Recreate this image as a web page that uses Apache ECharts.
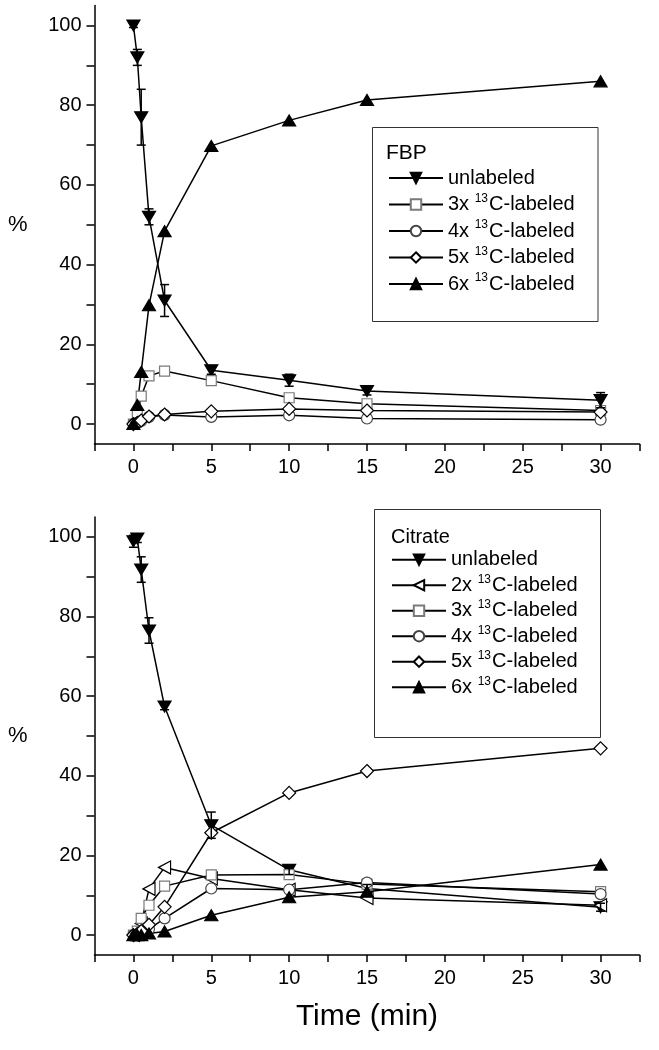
<!DOCTYPE html>
<html>
<head>
<meta charset="utf-8">
<script src="https://cdn.jsdelivr.net/npm/echarts@6/dist/echarts.min.js"></script>
<style>
  html, body { margin: 0; padding: 0; background: #fff; }
  #chart { width: 659px; height: 1050px; }
</style>
</head>
<body>
<div id="chart"></div>
<script>
// ---- data ----
const times = [0, 0.25, 0.5, 1, 2, 5, 10, 15, 30];

const fbpUnlabeled    = [100, 92, 77, 52, 31, 13.5, 11, 8.3, 6];
const fbpUnlabeledErr = [0.5, 2, 7, 2, 4, 1, 1.5, 1, 1.9];
const fbp3x = [0, 2.3, 7.0, 12.1, 13.3, 10.9, 6.6, 5.1, 3.4];
const fbp4x = [0, 0.3, 0.8, 1.8, 2.3, 1.8, 2.2, 1.4, 1.1];
const fbp5x = [0, 0.3, 0.9, 1.9, 2.4, 3.2, 3.8, 3.4, 3.0];
const fbp6x = [0, 4.8, 13.1, 29.8, 48.4, 69.8, 76.2, 81.3, 86];

const citUnlabeled    = [98.9, 99.6, 91.8, 76.5, 57.4, 27.6, 16.4, 11.7, 7.0];
const citUnlabeledErr = [1.5, 1, 3.2, 3.2, 0.8, 3.3, 1.2, 1, 1];
const cit2x = [0, 0.5, 2.9, 11.6, 17.0, 14.2, 11.4, 9.3, 7.5];
const cit3x = [0, 1.0, 4.2, 7.5, 12.3, 15.1, 15.2, 12.8, 10.9];
const cit4x = [0, 0.2, 0.5, 1.5, 4.2, 11.7, 11.4, 13.2, 10.3];
const cit5x = [0, 0.3, 1.0, 2.6, 7.1, 25.7, 35.7, 41.2, 46.9];
const cit6x = [0, 0, 0, 0.4, 0.9, 5.0, 9.5, 10.9, 17.7];

const xTicks  = [-2.5, 0, 2.5, 5, 7.5, 10, 12.5, 15, 17.5, 20, 22.5, 25, 27.5, 30, 32.5];
const xLabels = [0, 5, 10, 15, 20, 25, 30];
const yTicks  = [0, 10, 20, 30, 40, 50, 60, 70, 80, 90, 100];
const yLabels = [0, 20, 40, 60, 80, 100];

// ---- styles ----
const FONT = '"Liberation Sans", Arial, Helvetica, sans-serif';
const styles = {
  unlabeled: { symbol: 'triangle', symbolRotate: 180, symbolSize: [13, 11], fill: '#000', stroke: '#000' },
  '2x': { symbol: 'triangle', symbolRotate: 90, symbolSize: [13, 12], fill: '#fff', stroke: '#000' },
  '3x': { symbol: 'rect', symbolRotate: 0, symbolSize: 10, fill: '#fff', stroke: '#7a7a7a' },
  '4x': { symbol: 'circle', symbolRotate: 0, symbolSize: 11, fill: '#fff', stroke: '#444' },
  '5x': { symbol: 'diamond', symbolRotate: 0, symbolSize: 13, fill: '#fff', stroke: '#000' },
  '6x': { symbol: 'triangle', symbolRotate: 0, symbolSize: [13, 11], fill: '#000', stroke: '#000' }
};

function lineSeries(name, key, values, gi) {
  const s = styles[key];
  return {
    name: name, type: 'line',
    xAxisIndex: gi, yAxisIndex: gi,
    data: times.map((t, i) => [t, values[i]]),
    symbol: s.symbol, symbolRotate: s.symbolRotate, symbolSize: s.symbolSize,
    showSymbol: true, showAllSymbol: true,
    lineStyle: { color: '#000', width: 1.5 },
    itemStyle: { color: s.fill, borderColor: s.stroke, borderWidth: 1.2 },
    emphasis: { disabled: true },
    z: 3
  };
}

function errSeries(values, errs, gi) {
  return {
    type: 'custom',
    xAxisIndex: gi, yAxisIndex: gi,
    data: times.map((t, i) => [t, values[i], errs[i]]),
    encode: { x: 0, y: 1 },
    z: 4,
    renderItem: function (params, api) {
      const x = api.value(0), y = api.value(1), e = api.value(2);
      const hi = api.coord([x, y + e]);
      const lo = api.coord([x, y - e]);
      const w = 4.5;
      const st = { stroke: '#000', lineWidth: 1.5 };
      return {
        type: 'group',
        children: [
          { type: 'line', shape: { x1: hi[0], y1: hi[1], x2: lo[0], y2: lo[1] }, style: st },
          { type: 'line', shape: { x1: hi[0] - w, y1: hi[1], x2: hi[0] + w, y2: hi[1] }, style: st },
          { type: 'line', shape: { x1: lo[0] - w, y1: lo[1], x2: lo[0] + w, y2: lo[1] }, style: st }
        ]
      };
    }
  };
}

function xAxis(gi, withName) {
  const a = {
    type: 'value', gridIndex: gi, min: -2.5, max: 32.5,
    axisLine: { show: true, onZero: false, lineStyle: { color: '#000', width: 1.5 } },
    axisTick: { show: true, inside: false, length: 7, customValues: xTicks, lineStyle: { color: '#000', width: 1.5 } },
    axisLabel: { customValues: xLabels, color: '#000', fontSize: 20, fontFamily: FONT, margin: 13 },
    splitLine: { show: false }
  };
  if (withName) {
    a.name = 'Time (min)';
    a.nameLocation = 'middle';
    a.nameGap = 47;
    a.nameTextStyle = { color: '#000', fontSize: 30, fontFamily: FONT };
  }
  return a;
}

function yAxis(gi) {
  return {
    type: 'value', gridIndex: gi, min: -5, max: 105,
    name: '%', nameLocation: 'middle', nameGap: 67, nameRotate: 0,
    nameTextStyle: { color: '#000', fontSize: 22, fontFamily: FONT },
    axisLine: { show: true, onZero: false, lineStyle: { color: '#000', width: 1.5 } },
    axisTick: { show: true, inside: false, length: 8, customValues: yTicks, lineStyle: { color: '#000', width: 1.5 } },
    axisLabel: { customValues: yLabels, color: '#000', fontSize: 20, fontFamily: FONT, margin: 13 },
    splitLine: { show: false }
  };
}

function legendFormatter(name) {
  const label = name.split('|')[1];
  if (label === 'unlabeled') return '{a|unlabeled}';
  return '{a|' + label + ' }{s|13}{a|C-labeled}';
}
const legendRich = {
  a: { fontSize: 20, fontFamily: FONT, color: '#000', lineHeight: 24 },
  s: { fontSize: 12, fontFamily: FONT, color: '#000', lineHeight: 24, verticalAlign: 'top', padding: [0, 1, 10, 0] }
};

const fbpNames = ['FBP|unlabeled', 'FBP|3x', 'FBP|4x', 'FBP|5x', 'FBP|6x'];
const citNames = ['Cit|unlabeled', 'Cit|2x', 'Cit|3x', 'Cit|4x', 'Cit|5x', 'Cit|6x'];

const series = [
  lineSeries('FBP|unlabeled', 'unlabeled', fbpUnlabeled, 0),
  lineSeries('FBP|3x', '3x', fbp3x, 0),
  lineSeries('FBP|4x', '4x', fbp4x, 0),
  lineSeries('FBP|5x', '5x', fbp5x, 0),
  lineSeries('FBP|6x', '6x', fbp6x, 0),
  errSeries(fbpUnlabeled, fbpUnlabeledErr, 0),
  lineSeries('Cit|unlabeled', 'unlabeled', citUnlabeled, 1),
  lineSeries('Cit|2x', '2x', cit2x, 1),
  lineSeries('Cit|3x', '3x', cit3x, 1),
  lineSeries('Cit|4x', '4x', cit4x, 1),
  lineSeries('Cit|5x', '5x', cit5x, 1),
  lineSeries('Cit|6x', '6x', cit6x, 1),
  errSeries(citUnlabeled, citUnlabeledErr, 1)
];

const legendCommon = {
  orient: 'vertical', padding: 0, itemWidth: 54, itemHeight: 13,
  selectedMode: false, formatter: legendFormatter,
  textStyle: { rich: legendRich, fontFamily: FONT }
};

const option = {
  animation: false,
  backgroundColor: '#fff',
  grid: [
    { left: 94.5, right: 19.5, top: 5.6, height: 438.4, outerBoundsMode: 'none', containLabel: false },
    { left: 94.5, right: 19.5, top: 517, height: 438, outerBoundsMode: 'none', containLabel: false }
  ],
  xAxis: [xAxis(0, false), xAxis(1, true)],
  yAxis: [yAxis(0), yAxis(1)],
  legend: [
    Object.assign({}, legendCommon, { data: fbpNames, left: 388, top: 168, itemGap: 4.5 }),
    Object.assign({}, legendCommon, { data: citNames, left: 391, top: 549.7, itemGap: 3.5 })
  ],
  graphic: [
    { type: 'rect', shape: { x: 372.5, y: 127.5, width: 225.5, height: 194 }, style: { fill: 'none', stroke: '#333', lineWidth: 1 } },
    { type: 'text', x: 386, y: 153, style: { text: 'FBP', font: '21px ' + FONT, fill: '#000', verticalAlign: 'middle' } },
    { type: 'rect', shape: { x: 374.5, y: 509.5, width: 226, height: 228 }, style: { fill: 'none', stroke: '#333', lineWidth: 1 } },
    { type: 'text', x: 391, y: 537, style: { text: 'Citrate', font: '20px ' + FONT, fill: '#000', verticalAlign: 'middle' } }
  ],
  series: series
};

const chart = echarts.init(document.getElementById('chart'), null, { renderer: 'canvas' });
chart.setOption(option);
</script>
</body>
</html>
